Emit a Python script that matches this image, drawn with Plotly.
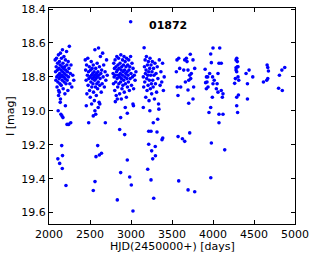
import plotly.graph_objects as go

# (HJD-2450000, I mag) pairs, grouped by observing season
season1 = [(2075,18.70),(2080,18.77),(2084,18.82),(2088,18.74),(2091,18.69),(2095,18.80),(2098,18.86),(2102,18.76),
           (2105,18.72),(2108,18.83),(2112,18.79),(2115,18.67),(2118,18.88),(2121,18.75),(2124,18.81),(2127,18.71),
           (2130,18.78),(2133,18.84),(2136,18.73),(2139,18.66),(2142,18.80),(2146,18.76),(2149,18.85),(2152,18.69),
           (2155,18.79),(2158,18.74),(2161,18.82),(2164,18.64),(2167,18.77),(2170,18.72),(2173,18.87),(2176,18.80),
           (2179,18.75),(2182,18.68),(2185,18.83),(2188,18.78),(2191,18.74),(2194,18.90),(2197,18.81),(2200,18.70),
           (2203,18.76),(2207,18.84),(2210,18.79),(2214,18.65),(2218,18.73),(2222,18.82),(2226,18.77),(2230,18.88),
           (2234,18.71),(2238,18.80),(2243,18.75),(2248,18.62),(2254,18.84),(2260,18.78),(2268,18.73),(2278,18.86),
           (2290,18.79),(2302,18.82),
           (2126,18.89),(2117,18.91),(2137,18.95),(2112,19.00),(2145,19.02),(2158,19.03),(2170,19.04),(2240,19.08),
           (2220,19.08),(2265,19.07),(2140,18.93),(2200,18.97),
           (2155,19.205),(2165,19.264),(2108,19.283),(2130,19.31),(2162,19.34),(2207,19.44)]

season2 = [(2442,18.70),(2447,18.76),(2453,18.82),(2458,18.73),(2462,18.90),(2468,18.79),(2473,18.69),(2477,18.85),
           (2482,18.77),(2486,18.81),(2491,18.74),(2495,18.88),(2499,18.80),(2503,18.92),(2507,18.76),(2511,18.83),
           (2515,18.71),(2518,18.79),(2522,18.86),(2526,18.75),(2529,18.81),(2533,18.78),(2536,18.84),(2540,18.73),
           (2543,18.89),(2547,18.80),(2550,18.77),(2553,18.94),(2557,18.82),(2560,18.64),(2563,18.79),(2567,18.86),
           (2570,18.75),(2573,18.81),(2577,18.91),(2580,18.78),(2583,18.84),(2587,18.72),(2590,18.80),(2593,18.87),
           (2597,18.77),(2600,18.83),(2604,18.63),(2607,18.79),(2611,18.95),(2615,18.74),(2619,18.85),(2623,18.81),
           (2627,18.68),(2632,18.78),(2637,18.89),(2642,18.76),(2648,18.84),(2654,18.66),(2660,18.80),(2667,18.73),
           (2675,18.86),(2684,18.77),(2693,18.82),(2702,18.70),(2710,18.79),
           (2455,18.97),(2520,18.96),(2560,19.00),(2540,19.03),(2570,19.02),(2600,18.98),(2484,19.07),(2687,19.07),
           (2620,18.96),
           (2594,19.205),(2573,19.27),(2614,19.26),(2640,19.25),(2561,19.417),(2540,19.47)]

season3 = [(2782,18.78),(2786,18.84),(2790,18.72),(2794,18.80),(2798,18.75),(2802,18.88),(2806,18.70),(2810,18.79),
           (2813,18.83),(2817,18.74),(2820,18.91),(2824,18.77),(2827,18.68),(2831,18.81),(2834,18.76),(2838,18.86),
           (2841,18.73),(2845,18.79),(2848,18.69),(2852,18.84),(2855,18.75),(2859,18.80),(2862,18.90),(2866,18.72),
           (2869,18.78),(2873,18.83),(2876,18.67),(2880,18.76),(2883,18.81),(2887,18.74),(2890,18.87),(2894,18.79),
           (2897,18.70),(2901,18.85),(2904,18.77),(2908,18.73),(2911,18.82),(2915,18.68),(2918,18.89),(2922,18.76),
           (2925,18.80),(2929,18.71),(2932,18.84),(2936,18.78),(2939,18.74),(2943,18.92),(2946,18.69),(2950,18.81),
           (2953,18.77),(2957,18.86),(2960,18.73),(2964,18.79),(2968,18.83),(2972,18.70),(2976,18.76),(2980,18.88),
           (2985,18.74),(2990,18.81),(2995,18.68),(3000,18.78),(3006,18.85),(3012,18.72),(3018,18.80),(3025,18.75),
           (3032,18.87),(3040,18.79),(3050,18.82),(3060,18.77),
           (2809,18.946),(2833,18.93),(2882,18.93),(2930,18.98),(2955,19.014),(3024,18.96),(3030,18.97),(2874,19.04),
           (2862,19.11),(2923,19.14),(2955,19.29),(2874,19.364),(2984,19.39),(3004,19.437),(2833,19.525),(3024,19.59),
           (2996,18.475)]

season4 = [(3150,18.80),(3155,18.86),(3160,18.628),(3164,18.74),(3168,18.83),(3172,18.70),(3176,18.78),(3180,18.92),
           (3184,18.76),(3188,18.68),(3192,18.81),(3196,18.88),(3200,18.73),(3204,18.79),(3208,18.85),(3212,18.71),
           (3216,18.77),(3220,18.94),(3224,18.82),(3228,18.75),(3232,18.69),(3236,18.87),(3240,18.79),(3244,18.73),
           (3248,18.84),(3252,18.90),(3256,18.77),(3260,18.71),(3265,18.82),(3270,18.86),(3275,18.75),(3280,18.79),
           (3286,18.93),(3292,18.72),(3298,18.84),(3305,18.78),(3312,18.89),(3320,18.74),(3328,18.81),(3336,18.96),
           (3345,18.70),(3355,18.85),(3365,18.77),(3375,18.83),(3385,18.72),(3395,18.88),(3405,18.80),
           (3150,18.98),(3230,19.00),(3340,18.99),
           (3326,19.05),(3272,19.07),(3216,19.12),(3244,19.12),(3317,19.125),(3387,19.16),(3378,19.17),(3216,19.197),
           (3252,19.236),(3296,19.21),(3265,19.283),(3298,19.265),(3204,19.344),(3244,19.407),(3277,19.515)]

season5 = [(3561,18.70),(3582,18.69),(3655,18.70),(3675,18.69),(3683,18.71),(3723,18.667),(3756,18.70),(3777,18.75),
           (3553,18.77),(3594,18.75),(3643,18.76),(3695,18.76),(3716,18.79),(3736,18.78),(3728,18.81),(3663,18.83),
           (3704,18.82),(3764,18.86),(3565,18.86),(3606,18.86),(3695,18.877),(3704,18.955),(3756,18.93),(3573,18.91),
           (3574,19.152),(3627,19.165),(3655,19.18),(3716,19.13),(3582,19.413),(3696,19.466),(3777,19.477)]

season6 = [(3927,18.83),(3939,18.86),(3919,18.87),(3959,18.78),(3980,18.716),(3972,18.665),(4000,18.63),(4082,18.63),
           (4073,18.72),(4101,18.72),(4061,18.78),(4041,18.87),(4061,18.89),(4101,18.88),(4122,18.90),(4114,18.92),
           (3992,18.92),(3972,18.98),(3951,19.01),(4073,19.02),(4122,19.02),(4073,19.07),(3904,18.755),(3920,18.80),
           (3935,18.80),(3995,18.80),(4015,18.82),(4000,18.84),(4050,18.84),(3910,18.834),
           (3980,19.19),(4143,19.23),(3973,19.394)]

season7 = [(4281,18.70),(4290,18.69),(4296,18.71),(4281,18.746),(4296,18.74),(4305,18.74),(4281,18.76),(4273,18.81),
           (4264,18.838),(4289,18.77),(4305,18.80),(4314,18.82),(4403,18.78),(4440,18.76),(4485,18.80),(4420,18.84),
           (4289,18.92),(4310,18.907),(4420,18.93),(4289,18.97),(4300,19.01)]

season8 = [(4615,18.83),(4655,18.82),(4660,18.73),(4668,18.745),(4676,18.765),(4668,18.81),(4810,18.79),(4840,18.76),
           (4875,18.745),(4800,18.867),(4845,18.88)]

x_ticks = [2000, 2500, 3000, 3500, 4000, 4500, 5000]
y_ticks = [18.4, 18.6, 18.8, 19.0, 19.2, 19.4, 19.6]
y_tick_text = ["18.4", "18.6", "18.8", "19.0", "19.2", "19.4", "19.6"]
star_id = "01872"
x_title = "HJD(2450000+) [days]"
y_title = "I [mag]"

points = season1 + season2 + season3 + season4 + season5 + season6 + season7 + season8
hjd = [p[0] for p in points]
mag = [p[1] for p in points]

fig = go.Figure(go.Scatter(x=hjd, y=mag, mode="markers",
                           marker=dict(color="#0000ff", size=3.6, line=dict(width=0)),
                           showlegend=False, hoverinfo="skip"))

font = "DejaVu Sans, sans-serif"
axis_common = dict(showgrid=False, zeroline=False, showline=True, linecolor="black", linewidth=1,
                   mirror="ticks", ticks="inside", ticklen=4, tickcolor="black", tickwidth=1,
                   automargin=False, tickfont=dict(family=font, size=11, color="black"))

fig.update_xaxes(range=[2000, 5000], tickvals=x_ticks, ticktext=[str(v) for v in x_ticks], **axis_common)
fig.update_yaxes(range=[19.667, 18.394], tickvals=y_ticks, ticktext=y_tick_text, **axis_common)

fig.add_annotation(text="<b>" + star_id + "</b>", xref="paper", yref="paper", x=0.482, y=0.921,
                   xanchor="center", yanchor="middle", showarrow=False,
                   font=dict(family=font, size=11, color="black"))
fig.add_annotation(text=x_title, xref="paper", yref="paper", x=0.5, y=-0.105,
                   xanchor="center", yanchor="middle", showarrow=False,
                   font=dict(family=font, size=11, color="black"))
fig.add_annotation(text=y_title, xref="paper", yref="paper", x=-0.1585, y=0.5, textangle=-90,
                   xanchor="center", yanchor="middle", showarrow=False,
                   font=dict(family=font, size=11, color="black"))

fig.update_layout(width=316, height=259, margin=dict(l=49, r=21, t=8, b=35),
                  paper_bgcolor="white", plot_bgcolor="white")

fig.write_html("out.html", config={"displayModeBar": False, "staticPlot": True},
               post_script="document.body.style.margin='0px';")
